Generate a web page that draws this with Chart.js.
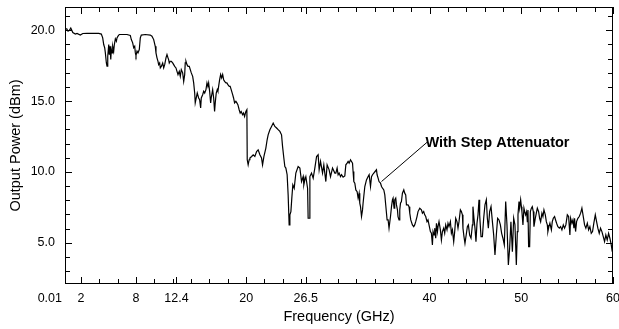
<!DOCTYPE html>
<html>
<head>
<meta charset="utf-8">
<script src="https://cdn.jsdelivr.net/npm/chart.js@4/dist/chart.umd.min.js"></script>
<style>
  html, body { margin: 0; padding: 0; background: #fff; }
  #wrap { width: 619px; height: 329px; }
</style>
</head>
<body>
<div id="wrap"><canvas id="powerChart" width="619" height="329"></canvas></div>
<script>
// ---- Data ----
const freqGHz = [
    0.26, 0.44, 0.58, 0.73, 0.88, 1.10, 1.38, 1.56, 1.92, 2.19,
    2.65, 3.20, 3.93, 4.21, 4.36, 4.47, 4.58, 4.65, 4.76, 4.83,
    4.91, 5.02, 5.08, 5.16, 5.24, 5.30, 5.38, 5.45, 5.56, 5.63,
    5.74, 5.85, 5.92, 6.03, 6.17, 7.01, 7.37, 7.48, 7.63, 7.74,
    7.85, 7.92, 7.99, 8.10, 8.21, 8.35, 8.46, 8.57, 9.00, 9.55,
    9.73, 9.92, 10.09, 10.17, 10.28, 10.39, 10.46, 10.57, 10.64, 10.75,
    10.90, 11.01, 11.12, 11.26, 11.37, 11.48, 11.55, 11.62, 11.73, 11.84,
    11.99, 12.10, 12.21, 12.35, 12.46, 12.57, 12.71, 12.82, 12.93, 13.08,
    13.19, 13.30, 13.36, 13.44, 13.55, 13.66, 13.80, 13.91, 14.02, 14.17,
    14.28, 14.39, 14.45, 14.56, 14.67, 14.82, 14.93, 15.04, 15.11, 15.26,
    15.37, 15.48, 15.62, 15.73, 15.83, 15.91, 16.02, 16.13, 16.19, 16.35,
    16.46, 16.56, 16.63, 16.74, 16.85, 16.92, 17.00, 17.11, 17.22, 17.33,
    17.44, 17.55, 17.65, 17.80, 17.90, 18.01, 18.16, 18.26, 18.37, 18.53,
    18.63, 18.74, 18.88, 18.99, 19.10, 19.24, 19.35, 19.46, 19.61, 19.72,
    19.83, 19.97, 20.08, 20.12, 20.22, 20.33, 20.41, 20.60, 20.77, 20.95,
    21.14, 21.31, 21.50, 21.68, 21.79, 21.94, 22.15, 22.29, 22.40, 22.59,
    22.77, 22.95, 23.13, 23.32, 23.49, 23.68, 23.86, 23.97, 24.11, 24.22,
    24.33, 24.47, 24.58, 24.69, 24.77, 24.88, 24.98, 25.09, 25.24, 25.42,
    25.67, 25.86, 26.04, 26.22, 26.29, 26.40, 26.51, 26.70, 26.76, 26.87,
    26.95, 27.13, 27.31, 27.49, 27.68, 27.85, 27.96, 28.11, 28.33, 28.47,
    28.69, 28.83, 29.05, 29.20, 29.42, 29.67, 29.78, 29.92, 30.03, 30.14,
    30.29, 30.40, 30.57, 30.76, 30.87, 31.01, 31.12, 31.23, 31.38, 31.49,
    31.60, 31.66, 31.74, 31.85, 31.96, 32.10, 32.21, 32.32, 32.39, 32.47,
    32.58, 32.69, 32.75, 32.94, 33.12, 33.30, 33.41, 33.56, 33.67, 33.78,
    33.92, 34.06, 34.21, 34.28, 34.39, 34.49, 34.65, 34.76, 34.87, 35.01,
    35.12, 35.22, 35.37, 35.48, 35.58, 35.66, 35.74, 35.85, 35.95, 36.02,
    36.13, 36.20, 36.31, 36.39, 36.50, 36.56, 36.67, 36.75, 36.83, 36.93,
    37.04, 37.19, 37.29, 37.40, 37.48, 37.65, 37.76, 37.84, 37.95, 38.13,
    38.27, 38.38, 38.49, 38.63, 38.74, 38.93, 39.11, 39.22, 39.36, 39.47,
    39.58, 39.72, 39.83, 39.94, 40.09, 40.20, 40.31, 40.38, 40.49, 40.56,
    40.67, 40.75, 40.86, 40.92, 41.03, 41.18, 41.29, 41.40, 41.54, 41.65,
    41.76, 41.90, 42.01, 42.12, 42.27, 42.38, 42.49, 42.63, 42.74, 42.85,
    42.99, 43.10, 43.21, 43.36, 43.47, 43.58, 43.64, 43.75, 43.86, 44.02,
    44.12, 44.23, 44.37, 44.52, 44.67, 44.73, 44.84, 44.95, 45.06, 45.17,
    45.28, 45.39, 45.46, 45.61, 45.76, 45.90, 46.04, 46.19, 46.30, 46.41,
    46.55, 46.70, 46.85, 46.99, 47.13, 47.28, 47.42, 47.57, 47.72, 47.86,
    48.00, 48.15, 48.30, 48.44, 48.59, 48.73, 48.87, 49.03, 49.17, 49.31,
    49.46, 49.57, 49.64, 49.75, 49.82, 49.93, 50.01, 50.07, 50.18, 50.29,
    50.37, 50.47, 50.58, 50.66, 50.73, 50.80, 50.91, 50.99, 51.10, 51.20,
    51.31, 51.38, 51.53, 51.64, 51.75, 51.89, 52.00, 52.11, 52.25, 52.36,
    52.47, 52.62, 52.73, 52.84, 52.90, 53.01, 53.12, 53.28, 53.38, 53.49,
    53.63, 53.74, 53.85, 53.99, 54.15, 54.29, 54.43, 54.58, 54.72, 54.86,
    55.02, 55.16, 55.30, 55.38, 55.52, 55.63, 55.74, 55.81, 55.92, 56.03,
    56.17, 56.32, 56.47, 56.61, 56.76, 56.90, 57.04, 57.20, 57.34, 57.48,
    57.63, 57.77, 57.91, 58.07, 58.21, 58.35, 58.50, 58.64, 58.79, 58.94,
    59.08, 59.22, 59.37, 59.52, 59.66, 59.81, 59.92
];

const powerDbm = [
    20.05, 20.10, 19.93, 20.00, 20.16, 19.84, 19.73, 19.77, 19.66, 19.77,
    19.78, 19.78, 19.78, 19.73, 19.46, 18.99, 18.76, 18.40, 17.69, 17.47,
    18.16, 18.99, 18.28, 18.87, 17.93, 18.64, 18.40, 18.87, 18.52, 18.99,
    19.39, 19.22, 19.46, 19.58, 19.70, 19.70, 19.63, 19.34, 19.11, 18.76,
    18.87, 18.40, 18.21, 18.52, 18.40, 18.64, 19.46, 19.66, 19.70, 19.66,
    19.58, 19.34, 18.87, 18.40, 18.05, 17.81, 17.57, 17.69, 17.34, 17.45,
    17.69, 17.34, 17.57, 18.05, 18.28, 18.05, 17.93, 17.69, 17.81, 17.81,
    17.69, 17.57, 17.45, 17.34, 17.10, 16.87, 17.10, 16.75, 17.22, 16.99,
    16.39, 16.87, 17.69, 17.81, 17.57, 17.45, 17.45, 17.22, 16.99, 16.75,
    16.28, 15.57, 14.87, 15.22, 15.57, 15.22, 15.10, 14.51, 15.22, 15.45,
    15.69, 15.57, 15.81, 16.28, 16.04, 16.28, 15.69, 14.87, 15.22, 15.81,
    15.22, 14.27, 14.87, 15.57, 15.81, 15.69, 16.04, 16.51, 16.87, 16.63,
    16.87, 16.51, 16.39, 16.28, 16.28, 16.16, 16.04, 16.04, 15.81, 15.45,
    15.22, 14.87, 14.98, 14.87, 14.75, 14.39, 14.16, 14.27, 14.04, 14.16,
    13.92, 14.27, 14.39, 10.86, 10.50, 10.86, 10.98, 11.09, 11.21, 11.09,
    11.44, 11.56, 11.21, 10.98, 10.50, 11.09, 11.68, 12.27, 12.62, 12.98,
    13.21, 13.45, 13.21, 13.10, 12.98, 12.86, 12.62, 11.80, 10.98, 10.38,
    10.27, 9.80, 8.38, 6.26, 6.97, 7.20, 8.15, 9.09, 8.85, 9.92,
    10.38, 10.27, 9.32, 9.67, 9.09, 9.44, 9.67, 8.85, 6.73, 6.73,
    9.67, 9.92, 9.56, 10.27, 11.09, 11.21, 10.15, 10.74, 9.92, 10.50,
    9.32, 10.50, 10.15, 9.67, 10.27, 9.92, 9.92, 10.27, 9.80, 9.92,
    9.67, 9.80, 9.63, 9.72, 10.50, 10.62, 10.74, 10.62, 10.86, 10.74,
    10.62, 10.03, 9.32, 9.21, 8.73, 8.61, 8.15, 8.50, 7.79, 7.55,
    6.85, 7.32, 7.79, 8.97, 9.44, 9.67, 9.80, 8.97, 9.67, 9.80,
    9.92, 10.03, 10.15, 9.80, 9.56, 9.32, 9.21, 8.97, 8.85, 8.73,
    8.38, 7.67, 6.61, 6.61, 6.03, 6.03, 6.85, 7.55, 8.03, 8.15,
    7.44, 8.03, 8.15, 7.67, 7.32, 6.85, 6.61, 7.32, 7.79, 7.91,
    8.50, 8.73, 8.50, 8.38, 7.67, 7.67, 7.55, 7.09, 6.61, 6.26,
    6.14, 6.26, 6.49, 6.85, 7.20, 7.44, 7.32, 7.09, 7.20, 6.97,
    6.85, 6.49, 6.61, 6.26, 5.79, 5.67, 4.85, 5.79, 5.55, 6.03,
    5.32, 6.38, 5.79, 6.14, 6.49, 5.91, 5.20, 5.79, 6.03, 5.67,
    6.26, 5.91, 6.38, 6.14, 6.49, 5.67, 5.91, 5.08, 5.79, 6.73,
    6.49, 6.03, 6.49, 7.32, 7.20, 6.97, 6.03, 5.43, 4.96, 5.67,
    6.14, 6.26, 5.55, 5.32, 6.26, 7.55, 6.73, 6.03, 5.08, 6.38,
    6.97, 8.03, 6.97, 5.43, 5.43, 6.73, 7.67, 8.03, 6.73, 6.03,
    7.20, 7.55, 6.49, 5.55, 4.14, 5.55, 6.73, 6.61, 6.26, 5.67,
    5.32, 4.85, 7.91, 6.26, 3.43, 4.61, 6.49, 4.37, 6.73, 6.26,
    3.43, 5.79, 6.97, 7.91, 7.44, 8.03, 7.55, 7.20, 6.26, 7.44,
    7.20, 6.97, 7.20, 6.49, 7.32, 4.73, 4.73, 7.20, 7.44, 7.55,
    7.20, 6.14, 6.73, 7.09, 7.44, 7.20, 6.73, 6.49, 7.09, 6.85,
    7.32, 6.97, 6.49, 6.26, 5.79, 6.14, 6.38, 5.91, 6.49, 6.73,
    6.85, 6.61, 6.38, 6.14, 6.03, 6.14, 5.91, 6.26, 6.03, 6.26,
    6.97, 6.85, 5.55, 6.73, 6.38, 6.61, 6.03, 6.73, 5.79, 6.49,
    6.73, 6.85, 7.09, 7.44, 6.85, 6.26, 6.03, 6.38, 5.91, 6.14,
    5.67, 5.79, 6.38, 6.97, 6.49, 6.03, 5.67, 6.03, 5.79, 5.43,
    5.08, 5.55, 5.20, 5.67, 5.32, 4.85, 4.37
];

// axis ticks
const xMajorTicks = [2, 8, 12.4, 20, 26.5, 40, 50, 60];
const xMajorLabels = ['2', '8', '12.4', '20', '26.5', '40', '50', '60'];
const xMinorTicks = [4, 6, 10, 12, 14, 16, 18, 22, 24, 26, 28, 30, 32, 34, 36, 38,
                     42, 44, 46, 48, 52, 54, 56, 58];
const xStartLabel = '0.01';
const yMajorTicks = [5, 10, 15, 20];
const yMajorLabels = ['5.0', '10.0', '15.0', '20.0'];
const yMinorTicks = [3, 4, 6, 7, 8, 9, 11, 12, 13, 14, 16, 17, 18, 19, 21];

const noteText = 'With Step Attenuator';
const FONT = '"Liberation Sans", Arial, Helvetica, sans-serif';

// ---- Frame, inward ticks, labels, annotation ----
const framePlugin = {
    id: 'frame',
    afterDraw(chart) {
        const { ctx, chartArea: a, scales: { x, y } } = chart;
        ctx.save();
        ctx.strokeStyle = '#000';
        ctx.fillStyle = '#000';
        ctx.lineWidth = 1;

        const line = (x1, y1, x2, y2) => {
            ctx.beginPath();
            ctx.moveTo(x1, y1);
            ctx.lineTo(x2, y2);
            ctx.stroke();
        };

        // plot border
        ctx.strokeRect(a.left + 0.5, a.top + 0.5, a.right - a.left - 1, a.bottom - a.top - 1);

        // x ticks (bottom + top, pointing in)
        const xTick = (v, len) => {
            const px = Math.round(x.getPixelForValue(v)) + 0.5;
            line(px, a.bottom, px, a.bottom - len);
            line(px, a.top, px, a.top + len);
        };
        xMinorTicks.forEach(v => xTick(v, 5));
        xMajorTicks.forEach(v => xTick(v, 7));

        // y ticks (left + right, pointing in)
        const yTick = (v, len) => {
            const py = Math.round(y.getPixelForValue(v)) + 0.5;
            line(a.left, py, a.left + len, py);
            line(a.right, py, a.right - len, py);
        };
        yMinorTicks.forEach(v => yTick(v, 5));
        yMajorTicks.forEach(v => yTick(v, 7));

        // tick labels
        ctx.font = '12.5px ' + FONT;
        ctx.textBaseline = 'top';
        ctx.textAlign = 'center';
        xMajorTicks.forEach((v, i) => {
            ctx.fillText(xMajorLabels[i], x.getPixelForValue(v), a.bottom + 8);
        });
        ctx.textAlign = 'right';
        ctx.fillText(xStartLabel, a.left - 3, a.bottom + 8);

        ctx.textBaseline = 'middle';
        yMajorTicks.forEach((v, i) => {
            ctx.fillText(yMajorLabels[i], a.left - 10, y.getPixelForValue(v));
        });

        // axis titles
        ctx.font = '14.5px ' + FONT;
        ctx.textAlign = 'center';
        ctx.fillText('Frequency (GHz)', (a.left + a.right) / 2, 317);
        ctx.save();
        ctx.translate(16, (a.top + a.bottom) / 2);
        ctx.rotate(-Math.PI / 2);
        ctx.fillText('Output Power (dBm)', 0, 0);
        ctx.restore();

        // annotation with leader line
        const tipX = x.getPixelForValue(34.76), tipY = y.getPixelForValue(9.32);
        const endX = x.getPixelForValue(39.83), endY = y.getPixelForValue(12.15);
        line(tipX, tipY, endX, endY);
        ctx.font = 'bold 14.5px ' + FONT;
        ctx.textAlign = 'left';
        ctx.textBaseline = 'alphabetic';
        ctx.fillText(noteText, x.getPixelForValue(39.55), y.getPixelForValue(11.78));

        ctx.restore();
    }
};

// ---- Chart ----
const points = freqGHz.map((f, i) => ({ x: f, y: powerDbm[i] }));

new Chart(document.getElementById('powerChart').getContext('2d'), {
    type: 'line',
    data: {
        datasets: [{
            label: 'With Step Attenuator',
            data: points,
            borderColor: '#000',
            borderWidth: 1.2,
            pointRadius: 0,
            tension: 0,
            fill: false
        }]
    },
    options: {
        responsive: false,
        animation: false,
        devicePixelRatio: 1,
        events: [],
        layout: { padding: { left: 65, right: 6, top: 7, bottom: 45 } },
        scales: {
            x: { type: 'linear', min: 0.25, max: 60, display: false },
            y: { type: 'linear', min: 2.09, max: 21.64, display: false }
        },
        plugins: {
            legend: { display: false },
            tooltip: { enabled: false }
        }
    },
    plugins: [framePlugin]
});
</script>
</body>
</html>
